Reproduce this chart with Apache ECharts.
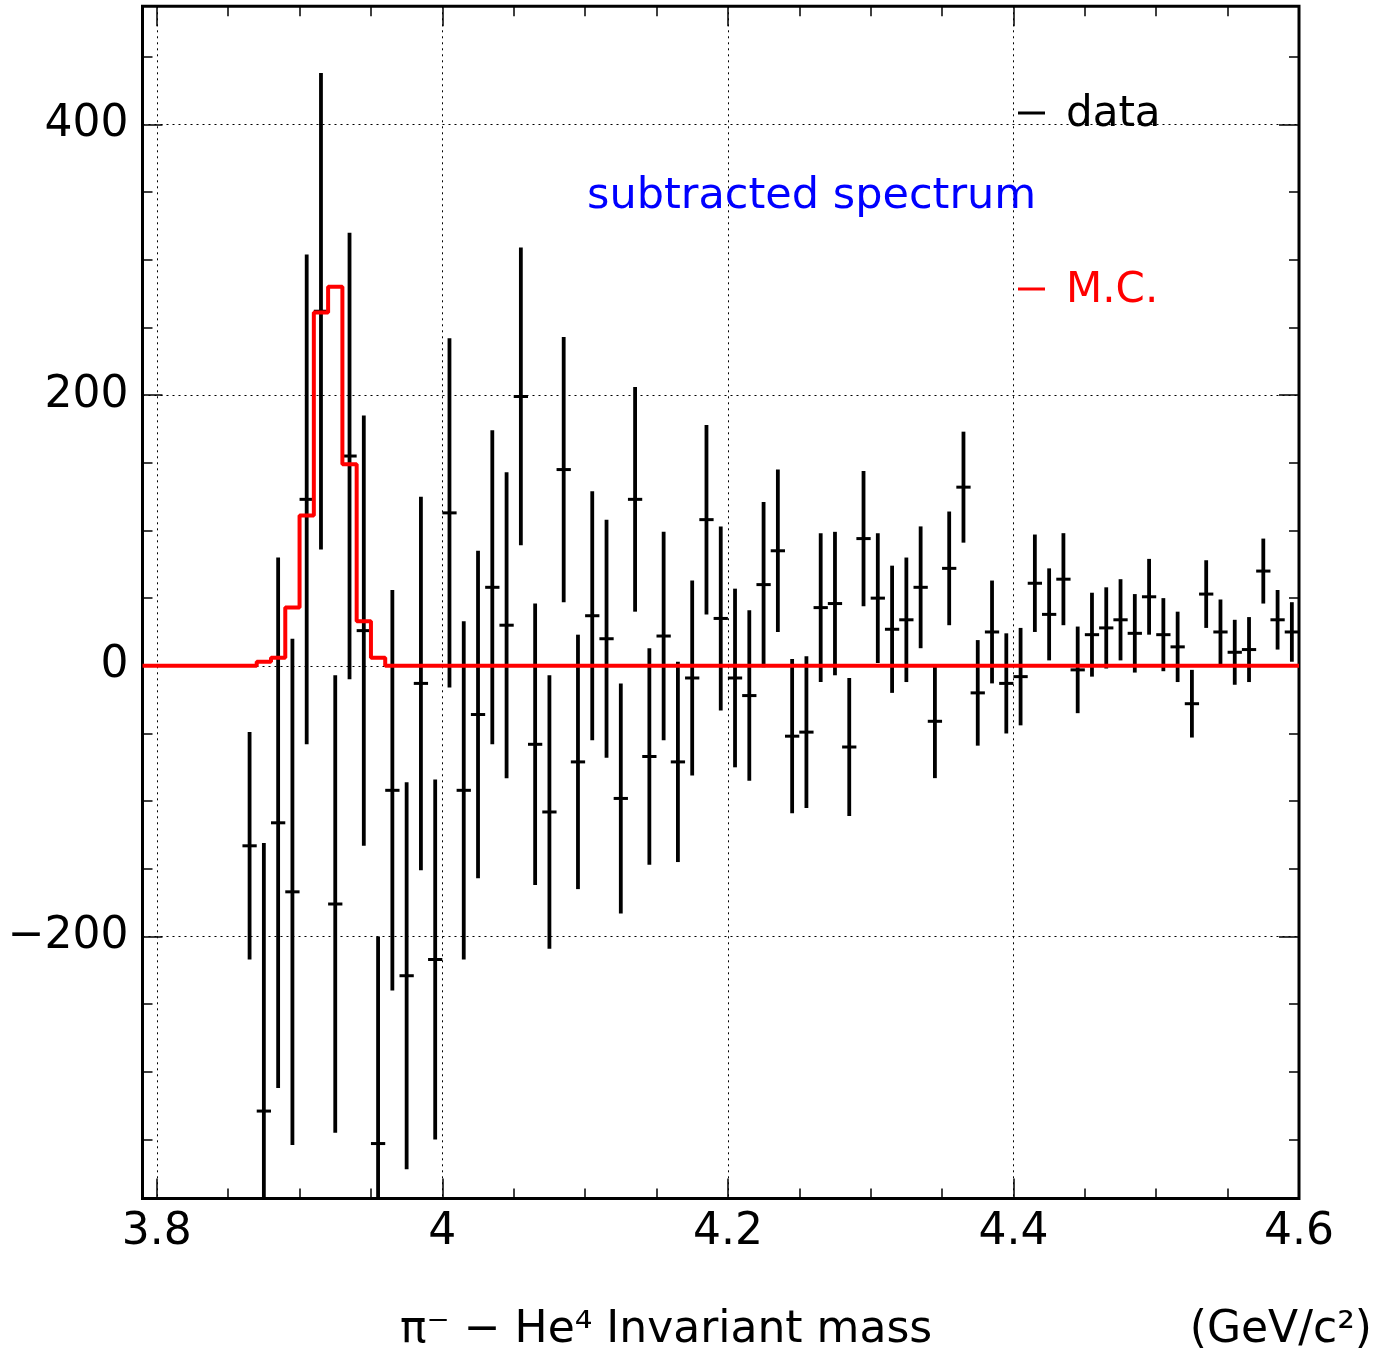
<!DOCTYPE html>
<html>
<head>
<meta charset="utf-8">
<script src="https://cdn.jsdelivr.net/npm/echarts@6/dist/echarts.min.js"></script>
<style>
  html, body { margin: 0; padding: 0; background: #fff; }
  #chart { width: 1391px; height: 1359px; }
</style>
</head>
<body>
<div id="chart"></div>
<script>
// ---------------- data ----------------
const binCenters = [
  3.865, 3.875, 3.885, 3.895, 3.905, 3.915, 3.925, 3.935, 3.945, 3.955,
  3.965, 3.975, 3.985, 3.995, 4.005, 4.015, 4.025, 4.035, 4.045, 4.055,
  4.065, 4.075, 4.085, 4.095, 4.105, 4.115, 4.125, 4.135, 4.145, 4.155,
  4.165, 4.175, 4.185, 4.195, 4.205, 4.215, 4.225, 4.235, 4.245, 4.255,
  4.265, 4.275, 4.285, 4.295, 4.305, 4.315, 4.325, 4.335, 4.345, 4.355,
  4.365, 4.375, 4.385, 4.395, 4.405, 4.415, 4.425, 4.435, 4.445, 4.455,
  4.465, 4.475, 4.485, 4.495, 4.505, 4.515, 4.525, 4.535, 4.545, 4.555,
  4.565, 4.575, 4.585, 4.595
];
const dataValues = [
  -133, -329, -116, -167, 123, 262, -176, 155, 26, -353,
  -92, -229, -13, -217, 113, -92, -36, 58, 30, 199,
  -58, -108, 145, -71, 37, 20, -98, 123, -67, 22,
  -71, -9, 108, 35, -9, -22, 60, 85, -52, -49,
  43, 46, -60, 94, 50, 27, 34, 58, -41, 72,
  132, -20, 25, -13, -8, 61, 38, 64, -3, 23,
  28, 34, 24, 51, 23, 14, -28, 53, 25, 10,
  12, 70, 34, 25
];
const dataErrors = [
  84, 198, 196, 187, 181, 176, 169, 165, 159, 153,
  148, 143, 138, 133, 129, 125, 121, 116, 113, 110,
  104, 101, 98, 94, 92, 88, 85, 83, 80, 77,
  74, 72, 70, 68, 66, 63, 61, 60, 57, 56,
  55, 53, 51, 50, 48, 47, 46, 45, 42, 42,
  41, 39, 38, 37, 36, 36, 34, 34, 32, 31,
  30, 30, 29, 28, 27, 26, 25, 25, 24, 24,
  24, 24, 22, 22
];
const binWidth = 0.01;

// Monte Carlo histogram (bin low edges and contents)
const mcEdges  = [3.79, 3.87, 3.88, 3.89, 3.90, 3.91, 3.92, 3.93, 3.94, 3.95, 3.96, 4.60];
const mcValues = [0,    3,    6,    43,   111,  261,  280,  149,  33,   6,    0,    0];

// axes
const xMin = 3.79, xMax = 4.6;
const yMin = -393.6, yMax = 487.3;
const xMajorTicks  = [3.8, 4.0, 4.2, 4.4, 4.6];
const xMajorLabels = ['3.8', '4', '4.2', '4.4', '4.6'];
const xMinorTicks  = [3.8, 3.85, 3.9, 3.95, 4.0, 4.05, 4.1, 4.15, 4.2, 4.25, 4.3, 4.35, 4.4, 4.45, 4.5, 4.55, 4.6];
const yMajorTicks  = [-200, 0, 200, 400];
const yMajorLabels = ['\u2212200', '0', '200', '400'];
const yMinorTicks  = [-350, -300, -250, -200, -150, -100, -50, 0, 50, 100, 150, 200, 250, 300, 350, 400, 450];

const FONT = 'DejaVu Sans';

function lookupLabel(vals, labels) {
  return function (v) {
    for (let i = 0; i < vals.length; i++) {
      if (Math.abs(vals[i] - v) < 1e-6) return labels[i];
    }
    return '';
  };
}

function makeX(pos, ticks, len, withLabel, withSplit) {
  return {
    type: 'value', position: pos, min: xMin, max: xMax, gridIndex: 0,
    axisLine: { show: false, onZero: false },
    axisTick: { show: true, inside: true, length: len, customValues: ticks,
                lineStyle: { color: '#000', width: 1.5 } },
    axisLabel: withLabel ? {
      show: true, customValues: ticks, formatter: lookupLabel(xMajorTicks, xMajorLabels),
      margin: 12, fontSize: 44, fontFamily: FONT, color: '#000'
    } : { show: false },
    splitLine: withSplit ? { show: true, lineStyle: { color: '#000', width: 1, type: [2, 4] } } : { show: false }
  };
}
function makeY(pos, ticks, len, withLabel, withSplit) {
  return {
    type: 'value', position: pos, min: yMin, max: yMax, gridIndex: 0,
    axisLine: { show: false, onZero: false },
    axisTick: { show: true, inside: true, length: len, customValues: ticks,
                lineStyle: { color: '#000', width: 1.5 } },
    axisLabel: withLabel ? {
      show: true, customValues: ticks, formatter: lookupLabel(yMajorTicks, yMajorLabels),
      margin: 14, fontSize: 44, fontFamily: FONT, color: '#000', padding: [4, 0, 0, 0]
    } : { show: false },
    splitLine: withSplit ? { show: true, lineStyle: { color: '#000', width: 1, type: [2, 4] } } : { show: false }
  };
}

const chart = echarts.init(document.getElementById('chart'), null, { renderer: 'canvas' });

const option = {
  animation: false,
  backgroundColor: '#fff',
  grid: {
    left: 142.5, top: 6.3, right: 92, bottom: 160.5,
    show: true, borderColor: '#000', borderWidth: 3, backgroundColor: 'transparent'
  },
  xAxis: [
    makeX('bottom', xMajorTicks, 20, true, true),
    makeX('bottom', xMinorTicks, 10, false, false),
    makeX('top', xMajorTicks, 20, false, false),
    makeX('top', xMinorTicks, 10, false, false)
  ],
  yAxis: [
    makeY('left', yMajorTicks, 20, true, true),
    makeY('left', yMinorTicks, 10, false, false),
    makeY('right', yMajorTicks, 20, false, false),
    makeY('right', yMinorTicks, 10, false, false)
  ],
  series: [
    {
      name: 'data',
      type: 'custom',
      xAxisIndex: 0, yAxisIndex: 0,
      z: 3,
      data: binCenters.map((x, i) => [x, dataValues[i], dataErrors[i]]),
      encode: { x: 0, y: 1 },
      renderItem: function (params, api) {
        const x = api.value(0), y = api.value(1), e = api.value(2);
        const cs = params.coordSys;
        const clampY = (py) => Math.max(cs.y, Math.min(cs.y + cs.height, py));
        const top = api.coord([x, y + e]);
        const bot = api.coord([x, y - e]);
        const l = api.coord([x - binWidth / 2, y]);
        const r = api.coord([x + binWidth / 2, y]);
        const children = [{
          type: 'line',
          shape: { x1: top[0], y1: clampY(top[1]), x2: bot[0], y2: clampY(bot[1]) },
          style: { stroke: '#000', lineWidth: 3.8 }
        }];
        if (l[1] >= cs.y && l[1] <= cs.y + cs.height) {
          children.push({
            type: 'line',
            shape: { x1: l[0], y1: l[1], x2: r[0], y2: r[1] },
            style: { stroke: '#000', lineWidth: 3 }
          });
        }
        return { type: 'group', children: children };
      }
    },
    {
      name: 'M.C.',
      type: 'line',
      xAxisIndex: 0, yAxisIndex: 0,
      z: 4,
      step: 'end',
      showSymbol: false,
      symbol: 'none',
      data: mcEdges.map((x, i) => [x, mcValues[i]]),
      lineStyle: { color: '#ff0000', width: 4 },
      itemStyle: { color: '#ff0000' }
    }
  ],
  graphic: [
    { type: 'line', shape: { x1: 1018, y1: 113, x2: 1045, y2: 113 }, style: { stroke: '#000', lineWidth: 3 }, z: 10 },
    { type: 'text', x: 1066, y: 115, z: 10,
      style: { text: 'data', font: '42px "DejaVu Sans"', fill: '#000', verticalAlign: 'middle', align: 'left' } },
    { type: 'text', x: 587, y: 197, z: 10,
      style: { text: 'subtracted spectrum', font: '43px "DejaVu Sans"', fill: '#0000ff', verticalAlign: 'middle', align: 'left' } },
    { type: 'line', shape: { x1: 1018, y1: 289, x2: 1045, y2: 289 }, style: { stroke: '#ff0000', lineWidth: 3 }, z: 10 },
    { type: 'text', x: 1066, y: 291, z: 10,
      style: { text: 'M.C.', font: '42px "DejaVu Sans"', fill: '#ff0000', verticalAlign: 'middle', align: 'left' } },
    { type: 'text', x: 400, y: 1331, z: 10,
      style: { text: '\u03c0\u207b \u2212 He\u2074 Invariant mass', font: '44px "DejaVu Sans"', fill: '#000', verticalAlign: 'middle', align: 'left' } },
    { type: 'text', x: 1372, y: 1331, z: 10,
      style: { text: '(GeV/c\u00b2)', font: '44px "DejaVu Sans"', fill: '#000', verticalAlign: 'middle', align: 'right' } }
  ]
};
chart.setOption(option);
</script>
</body>
</html>
